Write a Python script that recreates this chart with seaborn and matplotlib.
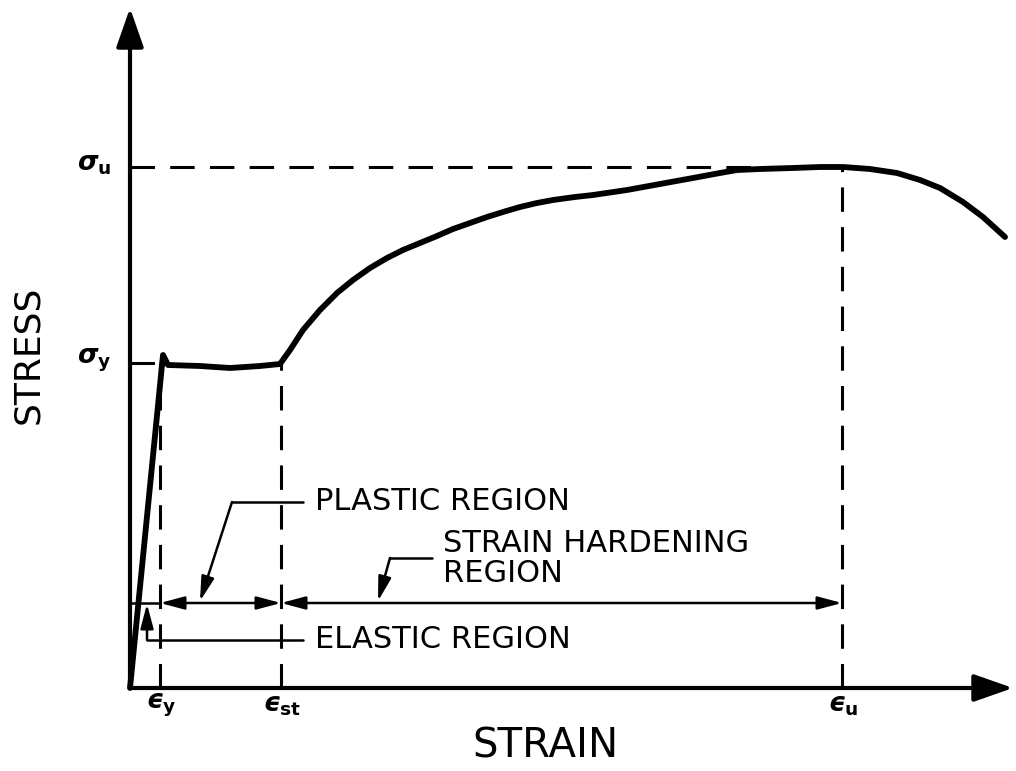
import matplotlib
matplotlib.use("Agg")
import matplotlib.pyplot as plt
import seaborn as sns

sns.set_style("white")
plt.rcParams["font.family"] = ["DejaVu Sans"]
plt.rcParams["text.color"] = "black"
plt.rcParams["mathtext.fontset"] = "custom"
plt.rcParams["mathtext.rm"] = "DejaVu Sans:bold"
plt.rcParams["mathtext.it"] = "DejaVu Sans:italic:bold"
plt.rcParams["mathtext.bf"] = "DejaVu Sans:bold"

# ================================
# DATA (schematic units)
# ================================

strain = [0, 33, 38, 70, 100, 130, 150,
          160, 173, 190, 207, 223, 240, 257, 273, 290, 307,
          323, 340, 357, 373, 390, 407, 423, 445, 463, 497,
          530, 563, 590, 607, 630, 663, 690, 713, 740, 767,
          790, 810, 833, 853, 875]
stress = [0, 333, 323, 322, 320, 322, 324,
          338, 358, 378, 395, 408, 420, 430, 438, 445, 452,
          459, 465, 471, 476, 481, 485, 488, 491, 493, 498,
          504, 510, 515, 518, 519, 520, 521, 521, 519, 515,
          508, 500, 486, 471, 451]

eps_y, eps_st, eps_u = 30, 151, 712
sig_y, sig_u = 325, 521

strain_ticks = [eps_y, eps_st, eps_u]
strain_labels = ["$ϵ_{\\mathrm{y}}$", "$ϵ_{\\mathrm{st}}$", "$ϵ_{\\mathrm{u}}$"]
stress_ticks = [sig_y, sig_u]
stress_labels = [r"$\sigma_{\mathrm{y}}$", r"$\sigma_{\mathrm{u}}$"]

dim_level = 85       # height of the region dimension line
axis_top = 680
axis_right = 883

# ================================
# FIGURE
# ================================

fig = plt.figure(figsize=(10.16, 7.71), dpi=100)
ax = fig.add_axes([0, 0, 1, 1])
ax.set_xlim(-130, 886)
ax.set_ylim(-83, 688)
ax.axis("off")

# axes with arrows
big = dict(arrowstyle="-|>,head_length=1.2,head_width=0.42", mutation_scale=20,
           lw=3, color="black", fc="black", shrinkA=0, shrinkB=0)
ax.annotate("", xy=(0, axis_top), xytext=(0, 0), arrowprops=big)
ax.annotate("", xy=(axis_right, 0), xytext=(0, 0), arrowprops=big)

# stress-strain curve
sns.lineplot(x=strain, y=stress, ax=ax, color="black", lw=4.2,
             estimator=None, sort=False)
ax.lines[-1].set_solid_joinstyle("round")
ax.lines[-1].set_solid_capstyle("round")

# dashed reference lines
dash = dict(color="black", lw=2.2, dashes=(8, 5))
ax.plot([0, eps_u], [sig_u, sig_u], **dash)
ax.plot([0, eps_y], [sig_y, sig_y], **dash)
for e, s in [(eps_y, sig_y), (eps_st, sig_y), (eps_u, sig_u)]:
    ax.plot([e, e], [0, s], **dash)

# dimension line for the regions
small = dict(arrowstyle="<|-|>,head_length=1.05,head_width=0.28", mutation_scale=14,
             lw=1.8, color="black", fc="black", shrinkA=0, shrinkB=0)
ax.plot([0, eps_y], [dim_level, dim_level], color="black", lw=1.8)
ax.annotate("", xy=(eps_st, dim_level), xytext=(eps_y, dim_level), arrowprops=small)
ax.annotate("", xy=(eps_u, dim_level), xytext=(eps_st, dim_level), arrowprops=small)

one = dict(small, arrowstyle="-|>,head_length=1.05,head_width=0.28")

# plastic region leader
ax.plot([173, 102], [186, 186], color="black", lw=1.8)
ax.annotate("", xy=(70, dim_level + 2), xytext=(102, 186), arrowprops=one)
ax.text(185, 186, "PLASTIC REGION", fontsize=22, ha="left", va="center")

# strain hardening leader
ax.plot([302, 260], [130, 130], color="black", lw=1.8)
ax.annotate("", xy=(248, dim_level + 2), xytext=(260, 130), arrowprops=one)
ax.text(313, 144, "STRAIN HARDENING", fontsize=22, ha="left", va="center")
ax.text(313, 115, "REGION", fontsize=22, ha="left", va="center")

# elastic region leader
ax.plot([17, 173], [48, 48], color="black", lw=1.8)
ax.annotate("", xy=(17, dim_level - 1), xytext=(17, 48), arrowprops=one)
ax.text(185, 48, "ELASTIC REGION", fontsize=22, ha="left", va="center")

# symbol labels
for e, lab in zip(strain_ticks, strain_labels):
    ax.text(e + 1, -17, lab, fontsize=19, ha="center", va="center")
for s, lab in zip(stress_ticks, stress_labels):
    ax.text(-19, s + 3, lab, fontsize=19, ha="right", va="center")

# axis titles
ax.text(415, -59, "STRAIN", fontsize=29, ha="center", va="center")
ax.text(-102, 333, "STRESS", fontsize=26, ha="center", va="center", rotation=90)

fig.savefig("out.png", dpi=100)
